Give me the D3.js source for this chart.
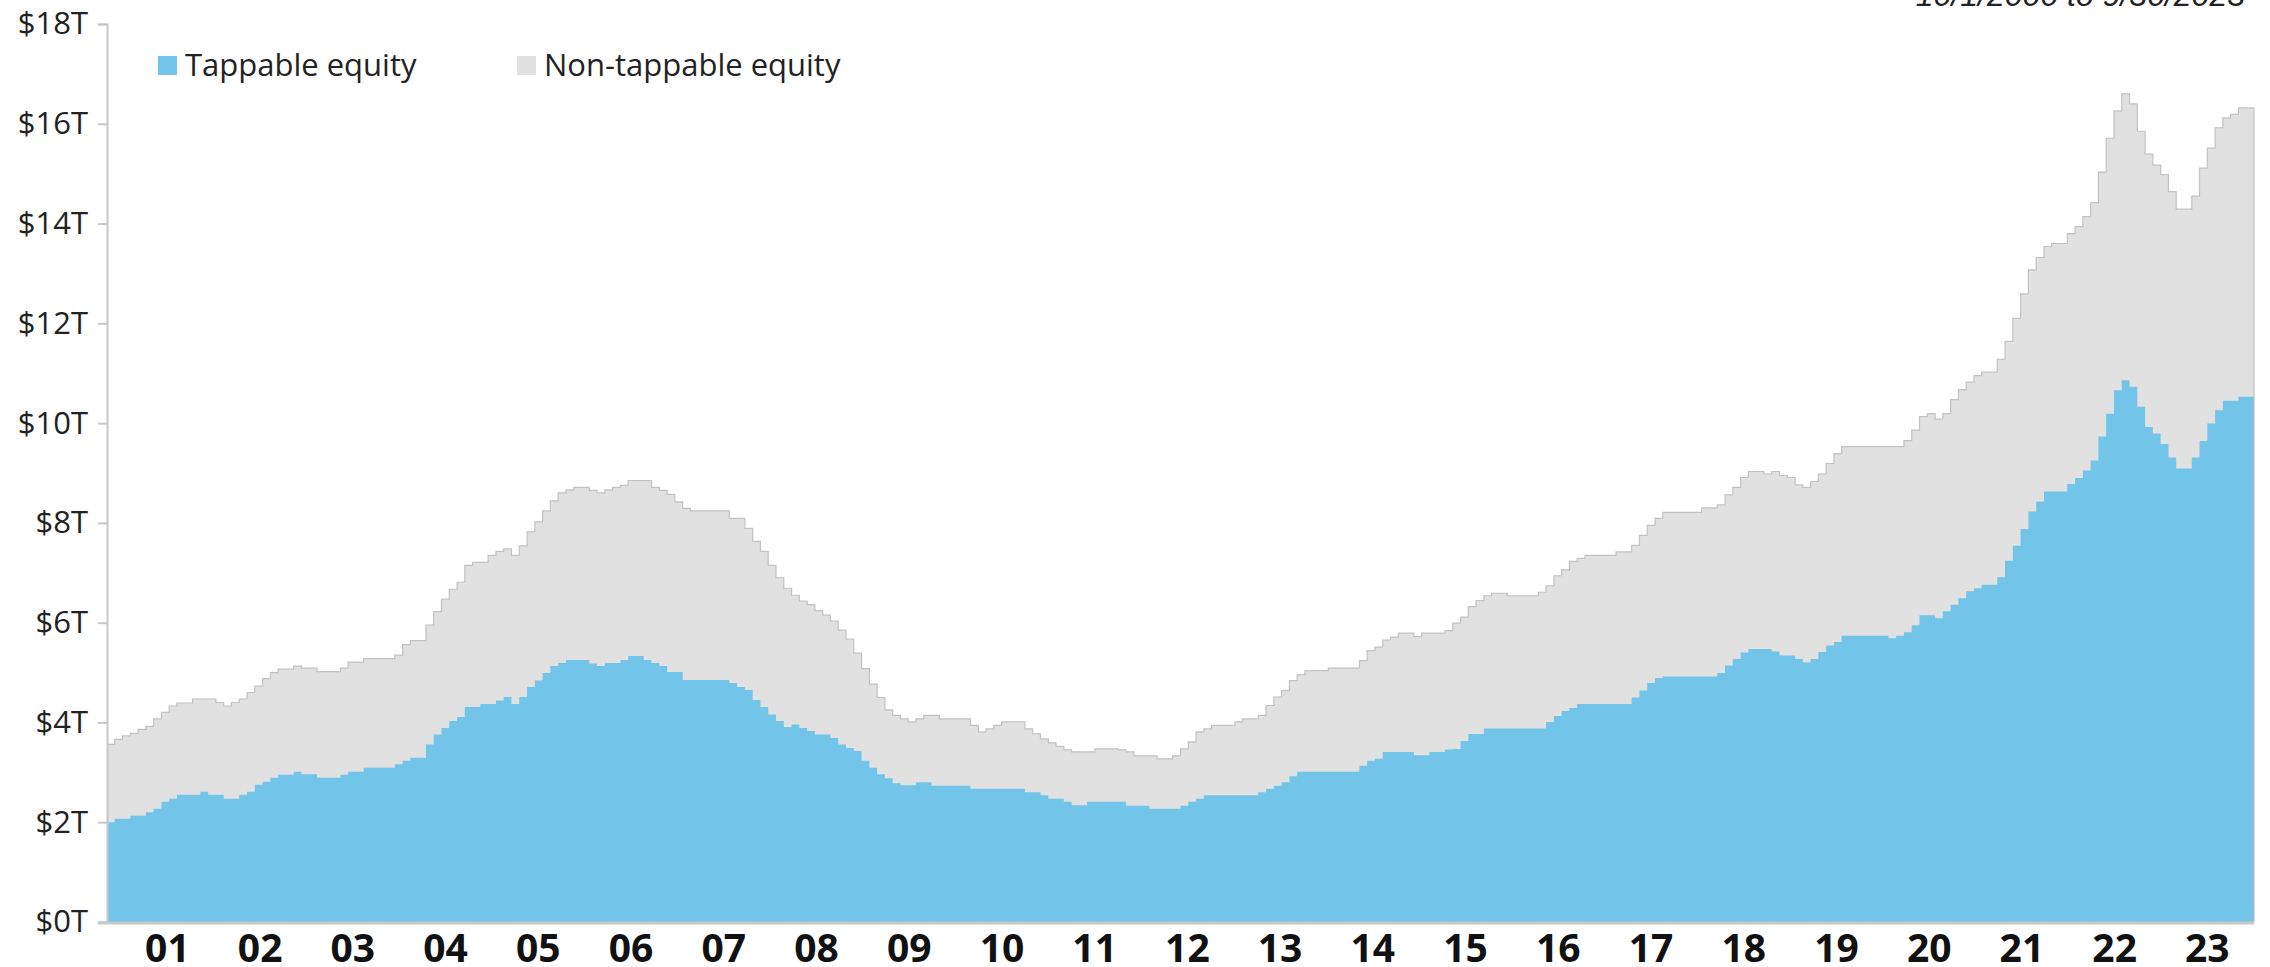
<!DOCTYPE html>
<html>
<head>
<meta charset="utf-8">
<script src="https://d3js.org/d3.v7.min.js"></script>
<style>
    body { margin: 0; background: #ffffff; }
    svg { display: block; }
</style>
</head>
<body>
<script>
// canvas and plot area
var canvasX = 2270;
var canvasY = 967;
var plotLeft = 107;
var plotRight = 2254;
var plotTop = 24;
var plotBottom = 922;

// first month of the data is October 2000, last is September 2023
var dateRange = "10/1/2000 to 9/30/2023";

// year labels on the x axis
var yearLabels = ["01", "02", "03", "04", "05", "06", "07", "08", "09", "10", "11", "12",
                  "13", "14", "15", "16", "17", "18", "19", "20", "21", "22", "23"];

// y axis tick values (trillions)
var yTicks = [0, 2, 4, 6, 8, 10, 12, 14, 16, 18];

// series names
var seriesNames = ["Tappable equity", "Non-tappable equity"];

// total equity (top of the grey area), $ trillions, one value per month
var totalEquity = [
    3.56, 3.66, 3.73,                                                     // 2000 Oct-Dec
    3.78, 3.86, 3.92, 4.07, 4.20, 4.33, 4.39, 4.39, 4.47, 4.47, 4.47, 4.40, // 2001
    4.33, 4.40, 4.47, 4.60, 4.73, 4.88, 5.00, 5.07, 5.07, 5.13, 5.09, 5.09, // 2002
    5.02, 5.02, 5.02, 5.09, 5.21, 5.21, 5.28, 5.28, 5.28, 5.28, 5.35, 5.56, // 2003
    5.64, 5.64, 5.95, 6.22, 6.47, 6.67, 6.81, 7.15, 7.21, 7.21, 7.35, 7.43, // 2004
    7.48, 7.35, 7.54, 7.82, 8.02, 8.24, 8.44, 8.60, 8.66, 8.71, 8.71, 8.65, // 2005
    8.60, 8.66, 8.71, 8.75, 8.85, 8.85, 8.85, 8.71, 8.65, 8.57, 8.42, 8.29, // 2006
    8.24, 8.24, 8.24, 8.24, 8.24, 8.09, 8.09, 7.89, 7.63, 7.43, 7.15, 6.90, // 2007
    6.69, 6.55, 6.43, 6.36, 6.24, 6.15, 6.03, 5.85, 5.67, 5.39, 5.08, 4.77, // 2008
    4.50, 4.25, 4.14, 4.07, 4.01, 4.07, 4.14, 4.14, 4.07, 4.07, 4.07, 4.07, // 2009
    3.94, 3.81, 3.87, 3.94, 4.01, 4.01, 4.01, 3.87, 3.77, 3.67, 3.59, 3.52, // 2010
    3.45, 3.41, 3.41, 3.41, 3.47, 3.47, 3.47, 3.45, 3.41, 3.33, 3.33, 3.33, // 2011
    3.27, 3.27, 3.33, 3.47, 3.61, 3.81, 3.87, 3.94, 3.94, 3.94, 4.01, 4.07, // 2012
    4.07, 4.14, 4.34, 4.51, 4.64, 4.84, 4.96, 5.04, 5.04, 5.04, 5.09, 5.09, // 2013
    5.09, 5.09, 5.24, 5.44, 5.51, 5.65, 5.71, 5.79, 5.79, 5.72, 5.79, 5.79, // 2014
    5.79, 5.84, 5.99, 6.11, 6.32, 6.44, 6.54, 6.59, 6.59, 6.54, 6.54, 6.54, // 2015
    6.54, 6.61, 6.74, 6.94, 7.06, 7.23, 7.29, 7.35, 7.35, 7.35, 7.35, 7.42, // 2016
    7.42, 7.55, 7.75, 7.95, 8.09, 8.21, 8.21, 8.21, 8.21, 8.21, 8.30, 8.30, // 2017
    8.36, 8.56, 8.71, 8.91, 9.03, 9.03, 8.98, 9.03, 8.95, 8.91, 8.76, 8.71, // 2018
    8.83, 8.98, 9.19, 9.39, 9.53, 9.53, 9.53, 9.53, 9.53, 9.53, 9.53, 9.53, // 2019
    9.65, 9.86, 10.13, 10.19, 10.08, 10.19, 10.47, 10.67, 10.82, 10.95, 11.02, 11.02, // 2020
    11.28, 11.64, 12.10, 12.59, 13.07, 13.32, 13.54, 13.60, 13.60, 13.80, 13.94, 14.14, // 2021
    14.42, 15.03, 15.71, 16.26, 16.60, 16.40, 15.85, 15.39, 15.17, 14.98, 14.64, 14.29, // 2022
    14.29, 14.55, 15.11, 15.51, 15.92, 16.12, 16.19, 16.32, 16.32        // 2023 Jan-Sep
];

// tappable equity (top of the blue area), $ trillions, one value per month
var tappableEquity = [
    2.00, 2.07, 2.07,                                                     // 2000 Oct-Dec
    2.13, 2.13, 2.20, 2.27, 2.41, 2.47, 2.55, 2.55, 2.55, 2.61, 2.55, 2.55, // 2001
    2.47, 2.47, 2.55, 2.61, 2.75, 2.81, 2.89, 2.95, 2.95, 3.01, 2.96, 2.96, // 2002
    2.89, 2.89, 2.89, 2.95, 3.01, 3.01, 3.09, 3.09, 3.09, 3.09, 3.16, 3.23, // 2003
    3.29, 3.29, 3.56, 3.76, 3.89, 4.03, 4.11, 4.31, 4.31, 4.37, 4.37, 4.44, // 2004
    4.51, 4.37, 4.51, 4.71, 4.84, 4.99, 5.13, 5.19, 5.25, 5.25, 5.25, 5.18, // 2005
    5.13, 5.19, 5.19, 5.25, 5.33, 5.33, 5.25, 5.19, 5.13, 5.01, 5.01, 4.85, // 2006
    4.85, 4.85, 4.85, 4.85, 4.85, 4.79, 4.71, 4.65, 4.45, 4.31, 4.16, 4.03, // 2007
    3.91, 3.96, 3.89, 3.83, 3.76, 3.76, 3.69, 3.56, 3.49, 3.43, 3.23, 3.09, // 2008
    2.96, 2.88, 2.78, 2.74, 2.74, 2.80, 2.80, 2.73, 2.73, 2.73, 2.73, 2.73, // 2009
    2.67, 2.67, 2.67, 2.67, 2.67, 2.67, 2.67, 2.60, 2.60, 2.54, 2.47, 2.47, // 2010
    2.41, 2.34, 2.34, 2.41, 2.41, 2.41, 2.41, 2.41, 2.33, 2.33, 2.33, 2.27, // 2011
    2.27, 2.27, 2.27, 2.33, 2.41, 2.47, 2.54, 2.54, 2.54, 2.54, 2.54, 2.54, // 2012
    2.54, 2.60, 2.67, 2.73, 2.80, 2.92, 3.01, 3.01, 3.01, 3.01, 3.01, 3.01, // 2013
    3.01, 3.01, 3.13, 3.23, 3.27, 3.41, 3.41, 3.41, 3.41, 3.34, 3.34, 3.41, // 2014
    3.41, 3.46, 3.47, 3.63, 3.77, 3.77, 3.88, 3.88, 3.88, 3.88, 3.88, 3.88, // 2015
    3.88, 3.88, 4.01, 4.13, 4.23, 4.29, 4.37, 4.37, 4.37, 4.37, 4.37, 4.37, // 2016
    4.37, 4.50, 4.64, 4.79, 4.89, 4.92, 4.92, 4.92, 4.92, 4.92, 4.92, 4.92, // 2017
    4.99, 5.14, 5.27, 5.40, 5.47, 5.47, 5.47, 5.42, 5.34, 5.34, 5.27, 5.20, // 2018
    5.27, 5.41, 5.54, 5.61, 5.74, 5.74, 5.74, 5.74, 5.74, 5.74, 5.69, 5.74, // 2019
    5.81, 5.95, 6.15, 6.15, 6.09, 6.23, 6.36, 6.49, 6.63, 6.69, 6.76, 6.76, // 2020
    6.91, 7.24, 7.54, 7.88, 8.23, 8.43, 8.63, 8.63, 8.63, 8.78, 8.90, 9.05, // 2021
    9.25, 9.73, 10.19, 10.66, 10.86, 10.73, 10.33, 9.92, 9.79, 9.58, 9.31, 9.09, // 2022
    9.09, 9.31, 9.64, 9.99, 10.26, 10.45, 10.45, 10.53, 10.53          // 2023 Jan-Sep
];

// colours
var blue = "#72c4e8";
var grey = "#e1e1e1";


window.onload = function() {

    var svg = d3.select("body")
                .append("svg")
                .attr("width", canvasX)
                .attr("height", canvasY);

    // months since the first month on x, trillions on y
    var nMonths = totalEquity.length;
    var scaleX = d3.scaleLinear()
                   .domain([0, nMonths])
                   .range([plotLeft, plotRight]);
    var scaleY = d3.scaleLinear()
                   .domain([0, 18])
                   .range([plotBottom, plotTop]);

    drawAreas(svg, scaleX, scaleY);
    drawAxes(svg, scaleX, scaleY);
    drawLegend(svg);

    // date range in the top right corner, cut off by the top edge
    svg.append("text")
       .attr("x", 2245)
       .attr("y", 6)
       .attr("text-anchor", "end")
       .style("font-family", "'Liberation Sans', Arial, sans-serif")
       .style("font-style", "italic")
       .style("font-size", "32px")
       .style("fill", "#222")
       .text(dateRange);
};

// turn a monthly array into points for a step chart
function stepPoints(values) {
    var points = values.map(function(v, i) { return [i, v]; });
    points.push([values.length, values[values.length - 1]]);
    return points;
}

// function to draw the grey and blue areas
function drawAreas(svg, scaleX, scaleY) {

    var area = d3.area()
                 .curve(d3.curveStepAfter)
                 .x(function(d) { return scaleX(d[0]); })
                 .y0(scaleY(0))
                 .y1(function(d) { return scaleY(d[1]); });

    var line = d3.line()
                 .curve(d3.curveStepAfter)
                 .x(function(d) { return scaleX(d[0]); })
                 .y(function(d) { return scaleY(d[1]); });

    // total equity drawn first, the tappable part goes on top of it
    svg.append("path")
       .attr("d", area(stepPoints(totalEquity)))
       .attr("fill", grey);

    svg.append("path")
       .attr("d", line(stepPoints(totalEquity)))
       .attr("fill", "none")
       .attr("stroke", "#c2c2c2")
       .attr("stroke-width", 1.2);

    svg.append("path")
       .attr("d", area(stepPoints(tappableEquity)))
       .attr("fill", blue);

    // thin edge on the right end of the areas
    svg.append("line")
       .attr("x1", scaleX(totalEquity.length))
       .attr("x2", scaleX(totalEquity.length))
       .attr("y1", scaleY(0))
       .attr("y2", scaleY(totalEquity[totalEquity.length - 1]))
       .attr("stroke", "#b8b8b8")
       .attr("stroke-width", 1);
}

// function for the axes
function drawAxes(svg, scaleX, scaleY) {

    var yAxis = d3.axisLeft(scaleY)
                  .tickValues(yTicks)
                  .tickSize(9)
                  .tickPadding(10)
                  .tickFormat(function(d) { return "$" + d + "T"; });

    var gy = svg.append("g")
                .attr("transform", "translate(" + plotLeft + ",0)")
                .call(yAxis);

    gy.select(".domain")
      .attr("stroke", "#c8c8c8")
      .attr("stroke-width", 2);
    gy.selectAll(".tick line")
      .attr("stroke", "#c8c8c8")
      .attr("stroke-width", 2);
    gy.selectAll(".tick text")
      .style("font-family", "'Open Sans', sans-serif")
      .style("font-size", "31px")
      .style("fill", "#222");

    // baseline
    svg.append("line")
       .attr("x1", plotLeft - 9)
       .attr("x2", plotRight)
       .attr("y1", plotBottom + 1)
       .attr("y2", plotBottom + 1)
       .attr("stroke", "#c8c8c8")
       .attr("stroke-width", 3);

    // year labels, one per year a little before the middle of each year
    var labelMonths = yearLabels.map(function(d, i) { return 7.7 + i * 11.92; });
    var xAxis = d3.axisBottom(scaleX)
                  .tickValues(labelMonths)
                  .tickSize(0)
                  .tickPadding(0)
                  .tickFormat(function(d, i) { return yearLabels[i]; });

    var gx = svg.append("g")
                .attr("transform", "translate(0," + plotBottom + ")")
                .call(xAxis);

    gx.select(".domain").remove();
    gx.selectAll(".tick text")
      .attr("y", 40)
      .attr("dy", null)
      .style("font-family", "'Open Sans', sans-serif")
      .style("font-weight", "bold")
      .style("font-size", "39px")
      .style("fill", "#111");
}

// function to make the legend
function drawLegend(svg) {

    var items = [[seriesNames[0], blue, 158], [seriesNames[1], grey, 517]];

    var legend = svg.selectAll(".legend")
                    .data(items)
                    .enter().append("g")
                    .attr("class", "legend")
                    .attr("transform", function(d) { return "translate(" + d[2] + ",56)"; });

    legend.append("rect")
          .attr("width", 19)
          .attr("height", 19)
          .attr("fill", function(d) { return d[1]; });

    legend.append("text")
          .attr("x", 27)
          .attr("y", 20)
          .text(function(d) { return d[0]; })
          .style("font-family", "'Open Sans', sans-serif")
          .style("font-size", "31px")
          .style("fill", "#222");
}
</script>
</body>
</html>
